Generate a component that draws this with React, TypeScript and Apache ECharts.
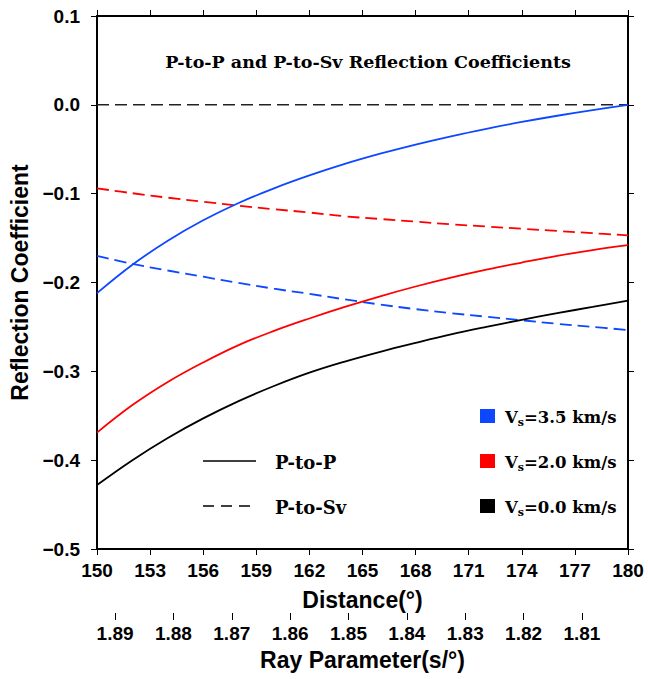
import React, { useEffect, useRef } from "react";
import * as echarts from "echarts";

const distances = [150, 152, 154, 156, 158, 160, 162, 164, 166, 168, 170, 172, 174, 176, 178, 180];

// P-to-P reflection coefficients
const ppVs35 = [-0.212, -0.18, -0.153, -0.13, -0.1105, -0.094, -0.0795, -0.0665, -0.055, -0.0447, -0.0354, -0.027, -0.0193, -0.0123, -0.0059, 0.0];
const ppVs20 = [-0.369, -0.338, -0.312, -0.29, -0.2705, -0.2545, -0.2405, -0.2275, -0.2155, -0.2045, -0.1945, -0.1855, -0.1775, -0.17, -0.1635, -0.158];
const ppVs00 = [-0.428, -0.4, -0.375, -0.353, -0.3335, -0.3165, -0.3015, -0.289, -0.278, -0.268, -0.2585, -0.25, -0.242, -0.2345, -0.2275, -0.2205];

// P-to-Sv reflection coefficients
const psVs35 = [-0.17, -0.179, -0.1865, -0.1935, -0.2005, -0.207, -0.2128, -0.219, -0.2248, -0.23, -0.2345, -0.2385, -0.2425, -0.2465, -0.25, -0.2535];
const psVs20 = [-0.094, -0.0995, -0.1045, -0.109, -0.1135, -0.1175, -0.1212, -0.1255, -0.1285, -0.1315, -0.1345, -0.137, -0.1395, -0.142, -0.1445, -0.147];

const rayParamTicks = [1.81, 1.82, 1.83, 1.84, 1.85, 1.86, 1.87, 1.88, 1.89];
const rayParamMin = 1.8021;
const rayParamMax = 1.8931;

const BLUE = "#0d47ff";
const RED = "#ff0000";
const BLACK = "#000000";

const legendVs = [
  { label: "=3.5 km/s", color: BLUE },
  { label: "=2.0 km/s", color: RED },
  { label: "=0.0 km/s", color: BLACK },
];

const SANS = "Liberation Sans, Arial, Helvetica, sans-serif";
const SERIF = "DejaVu Serif, serif";

const pairs = (xs: number[], ys: number[]) => xs.map((x, i) => [x, ys[i]]);

export default function App() {
  const ref = useRef<HTMLDivElement>(null);
  useEffect(() => {
    document.body.style.margin = "0";
    const chart = echarts.init(ref.current!, null, { renderer: "svg" });
    const axisLine = { show: true, onZero: false, lineStyle: { color: "#000", width: 2 } };
    const tick = { show: true, length: 6, lineStyle: { color: "#000", width: 1 } };
    const tickLabel = { color: "#000", fontSize: 19, fontWeight: "bold" as const, fontFamily: SANS };
    const nameStyle = { color: "#000", fontSize: 23, fontWeight: "bold" as const, fontFamily: SANS };
    const lineSeries = (name: string, data: number[][], color: string, dashed: boolean) => ({
      name,
      type: "line",
      data,
      xAxisIndex: 0,
      yAxisIndex: 0,
      showSymbol: false,
      smooth: 0.4,
      lineStyle: { color, width: 1.8, type: dashed ? [12, 6] : "solid" },
      z: 3,
    });
    const legendRows = [416, 461, 506];
    const graphics: any[] = [
      {
        type: "text",
        x: 368,
        y: 62,
        style: {
          text: "P-to-P and P-to-Sv Reflection Coefficients",
          font: `bold 17.5px ${SERIF}`,
          fill: "#000",
          textAlign: "center",
          textVerticalAlign: "middle",
        },
      },
      { type: "line", shape: { x1: 203, y1: 461, x2: 256, y2: 461 }, style: { stroke: "#000", lineWidth: 1.5 } },
      { type: "text", x: 275, y: 462, style: { text: "P-to-P", font: `bold 18px ${SERIF}`, fill: "#000", textVerticalAlign: "middle" } },
      { type: "line", shape: { x1: 203, y1: 506, x2: 251, y2: 506 }, style: { stroke: "#000", lineWidth: 1.5, lineDash: [11, 7] } },
      { type: "text", x: 275, y: 507, style: { text: "P-to-Sv", font: `bold 18px ${SERIF}`, fill: "#000", textVerticalAlign: "middle" } },
    ];
    legendVs.forEach((it, i) => {
      const y = legendRows[i];
      graphics.push({ type: "rect", shape: { x: 480, y: y - 7, width: 15, height: 14 }, style: { fill: it.color } });
      graphics.push({
        type: "text",
        x: 505,
        y: y + 1,
        style: {
          text: `{v|V}{s|s}{t|${it.label}}`,
          textVerticalAlign: "middle",
          fill: "#000",
          rich: {
            v: { font: `bold 16.5px ${SERIF}`, lineHeight: 22, fill: "#000" },
            s: { font: `bold 11px ${SERIF}`, lineHeight: 12, verticalAlign: "bottom", fill: "#000" },
            t: { font: `bold 16.5px ${SERIF}`, lineHeight: 22, fill: "#000" },
          },
        },
      });
    });

    chart.setOption({
      animation: false,
      backgroundColor: "#fff",
      grid: { left: 97, right: 20, top: 16, bottom: 130, containLabel: false },
      xAxis: [
        {
          type: "value",
          position: "bottom",
          min: 150,
          max: 180,
          interval: 3,
          axisLine,
          axisTick: tick,
          axisLabel: { ...tickLabel, margin: 12 },
          splitLine: { show: false },
          name: "Distance(°)",
          nameLocation: "middle",
          nameGap: 39,
          nameTextStyle: nameStyle,
        },
        {
          type: "value",
          position: "top",
          min: 150,
          max: 180,
          interval: 3,
          axisLine,
          axisTick: tick,
          axisLabel: { show: false },
          splitLine: { show: false },
        },
        {
          type: "value",
          position: "bottom",
          offset: 64,
          min: rayParamMin,
          max: rayParamMax,
          inverse: true,
          axisLine: { show: false, onZero: false },
          axisTick: { show: true, length: 7, lineStyle: { color: "#000", width: 1 }, customValues: rayParamTicks },
          axisLabel: {
            ...tickLabel,
            margin: 11,
            customValues: rayParamTicks,
            formatter: (v: number) => v.toFixed(2),
          },
          splitLine: { show: false },
          name: "Ray Parameter(s/°)",
          nameLocation: "middle",
          nameGap: 35,
          nameTextStyle: nameStyle,
        },
      ],
      yAxis: [
        {
          type: "value",
          position: "left",
          min: -0.5,
          max: 0.1,
          interval: 0.1,
          axisLine,
          axisTick: tick,
          axisLabel: {
            ...tickLabel,
            margin: 17,
            formatter: (v: number) => (Math.abs(v) < 1e-9 ? "0.0" : v < 0 ? "\u2212" + Math.abs(v).toFixed(1) : v.toFixed(1)),
          },
          splitLine: { show: false },
          name: "Reflection Coefficient",
          nameLocation: "middle",
          nameGap: 64,
          nameTextStyle: nameStyle,
        },
        {
          type: "value",
          position: "right",
          min: -0.5,
          max: 0.1,
          interval: 0.1,
          axisLine,
          axisTick: tick,
          axisLabel: { show: false },
          splitLine: { show: false },
        },
      ],
      series: [
        {
          name: "zero",
          type: "line",
          data: [[150, 0], [180, 0]],
          showSymbol: false,
          lineStyle: { color: "#222", width: 1.5, type: [12, 6] },
          z: 2,
        },
        lineSeries("P-to-Sv Vs=2.0", pairs(distances, psVs20), RED, true),
        lineSeries("P-to-Sv Vs=3.5", pairs(distances, psVs35), BLUE, true),
        lineSeries("P-to-P Vs=0.0", pairs(distances, ppVs00), BLACK, false),
        lineSeries("P-to-P Vs=2.0", pairs(distances, ppVs20), RED, false),
        lineSeries("P-to-P Vs=3.5", pairs(distances, ppVs35), BLUE, false),
      ],
      graphic: graphics,
    });
    return () => chart.dispose();
  }, []);
  return <div ref={ref} style={{ width: 648, height: 679 }} />;
}
